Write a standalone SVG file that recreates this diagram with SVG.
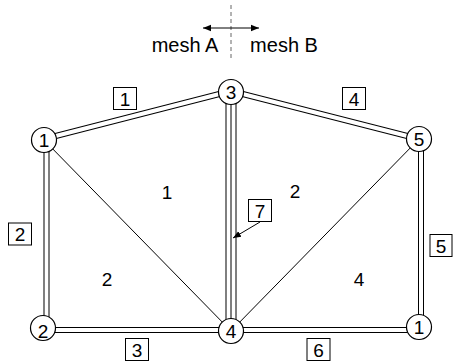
<svg xmlns="http://www.w3.org/2000/svg" width="453" height="364" viewBox="0 0 453 364">
<defs>
<style>
text{font-family:"Liberation Sans",Arial,sans-serif;font-size:19px;fill:#000;text-anchor:middle}
text.hdr{font-size:20px}
.dbk{stroke:#000;stroke-width:6;fill:none}
.dwh{stroke:#fff;stroke-width:4;fill:none}
.thin{stroke:#000;stroke-width:1;fill:none}
.node circle{fill:#fff;stroke:#000;stroke-width:1.2}
.box rect{fill:#fff;stroke:#000;stroke-width:1}
</style>
<marker id="ah" viewBox="0 0 10 10" refX="10" refY="5" markerWidth="8" markerHeight="8" markerUnits="userSpaceOnUse" orient="auto-start-reverse">
<path d="M0,1 L10,5 L0,9 z" fill="#000"/>
</marker>
</defs>
<g id="header">
<line x1="231" y1="5" x2="231" y2="58" stroke="#666" stroke-width="1" stroke-dasharray="4,3"/>
<line x1="203" y1="28" x2="259" y2="28" class="thin" marker-start="url(#ah)" marker-end="url(#ah)"/>
<text class="hdr" x="185" y="52">mesh A</text>
<text class="hdr" x="284" y="52">mesh B</text>
</g>
<g id="connectors">
<line x1="44" y1="140" x2="231" y2="331" class="thin"/>
<line x1="419" y1="139" x2="231" y2="331" class="thin"/>
<g id="e1"><line x1="44" y1="139" x2="231" y2="91" class="dbk"/><line x1="44" y1="139" x2="231" y2="91" class="dwh"/></g>
<g id="e4"><line x1="231" y1="91" x2="419" y2="139" class="dbk"/><line x1="231" y1="91" x2="419" y2="139" class="dwh"/></g>
<g id="e2"><line x1="46.5" y1="140" x2="46.5" y2="328" class="dbk"/><line x1="46.5" y1="140" x2="46.5" y2="328" class="dwh"/></g>
<g id="e5"><line x1="421" y1="139" x2="421" y2="327" class="dbk"/><line x1="421" y1="139" x2="421" y2="327" class="dwh"/></g>
<g id="e3"><line x1="43" y1="330" x2="231" y2="330" class="dbk"/><line x1="43" y1="330" x2="231" y2="330" class="dwh"/></g>
<g id="e6"><line x1="231" y1="330" x2="419" y2="330" class="dbk"/><line x1="231" y1="330" x2="419" y2="330" class="dwh"/></g>
<g id="e7">
<line x1="231" y1="92" x2="231" y2="331" stroke="#000" stroke-width="11"/>
<line x1="231" y1="92" x2="231" y2="331" stroke="#fff" stroke-width="9"/>
<line x1="231" y1="92" x2="231" y2="331" stroke="#000" stroke-width="1"/>
</g>
<line x1="260" y1="222" x2="233" y2="238" class="thin" marker-end="url(#ah)"/>
</g>
<g id="n1a" class="node"><circle cx="44" cy="140" r="12.5"/><text x="44" y="147">1</text></g>
<g id="n3" class="node"><circle cx="231" cy="92" r="12.5"/><text x="231" y="99">3</text></g>
<g id="n5" class="node"><circle cx="419" cy="139" r="12.5"/><text x="419" y="146">5</text></g>
<g id="n2" class="node"><circle cx="43" cy="328" r="12.5"/><text x="43" y="337.5">2</text></g>
<g id="n4" class="node"><circle cx="231" cy="331" r="12.5"/><text x="231" y="338">4</text></g>
<g id="n1b" class="node"><circle cx="419" cy="327" r="12.5"/><text x="419" y="334">1</text></g>
<g id="b1" class="box"><rect x="113.5" y="87.5" width="23" height="22"/><text x="125" y="105.5">1</text></g>
<g id="b4" class="box"><rect x="342.5" y="87.5" width="23" height="22"/><text x="354" y="105.5">4</text></g>
<g id="b2" class="box"><rect x="8.5" y="223" width="23" height="22"/><text x="20" y="241">2</text></g>
<g id="b7" class="box"><rect x="248.5" y="199.5" width="23" height="22"/><text x="260" y="217.5">7</text></g>
<g id="b5" class="box"><rect x="430" y="234.5" width="22" height="22"/><text x="441" y="252.5">5</text></g>
<g id="b3" class="box"><rect x="125.5" y="338.5" width="23" height="22"/><text x="137" y="356.5">3</text></g>
<g id="b6" class="box"><rect x="307" y="338.5" width="23" height="22"/><text x="318.5" y="356.5">6</text></g>
<g id="faces">
<text x="167" y="198.5">1</text>
<text x="295" y="197.5">2</text>
<text x="107" y="285.5">2</text>
<text x="359" y="285.5">4</text>
</g>
</svg>
